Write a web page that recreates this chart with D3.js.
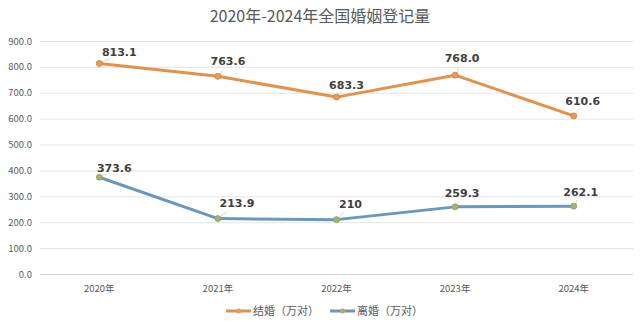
<!DOCTYPE html>
<html><head><meta charset="utf-8">
<script src="https://cdn.jsdelivr.net/npm/d3@7/dist/d3.min.js"></script>
<style>body{margin:0;background:#fff}svg{display:block}</style>
</head><body><svg id="c" width="640" height="325"></svg>
<script>
const categories = ["2020年","2021年","2022年","2023年","2024年"];
const marriage = [813.1, 763.6, 683.3, 768.0, 610.6];
const divorce = [373.6, 213.9, 210, 259.3, 262.1];
const marriageLabels = ["813.1","763.6","683.3","768.0","610.6"];
const divorceLabels = ["373.6","213.9","210","259.3","262.1"];
const yTicks = [0,100,200,300,400,500,600,700,800,900];
const seriesNames = ["结婚（万对）","离婚（万对）"];
const title = "2020年-2024年全国婚姻登记量";

const svg = d3.select("#c");
const font = "'Noto Sans CJK SC','Microsoft YaHei',sans-serif";
const x = d3.scaleBand().domain(categories).range([40,633]);
const y = d3.scaleLinear().domain([0,900]).range([274,41]);

svg.append("text").attr("x",320).attr("y",22).attr("text-anchor","middle")
  .attr("font-family",font).attr("font-size",16).attr("fill","#595959").text(title);

const yAxis = svg.append("g").attr("transform","translate(40,0)")
  .call(d3.axisLeft(y).tickValues(yTicks).tickFormat(d3.format(".1f")).tickSize(-593).tickPadding(8));
yAxis.select(".domain").remove();
yAxis.selectAll(".tick line").attr("stroke","#e3e3e3");
yAxis.selectAll(".tick text").attr("font-family",font).attr("font-size",9.5).attr("fill","#595959");
yAxis.selectAll(".tick").filter(d=>d===0).select("line").attr("stroke","#d0d0d0");

const xAxis = svg.append("g").attr("transform","translate(0,274)")
  .call(d3.axisBottom(x).tickSize(0).tickPadding(11));
xAxis.select(".domain").remove();
xAxis.selectAll(".tick text").attr("font-family",font).attr("font-size",9.5).attr("fill","#595959");

const cx = d => x(d) + x.bandwidth()/2;
const line = d3.line().x(d=>cx(d[0])).y(d=>y(d[1]));

const series = [
  {vals: marriage, labels: marriageLabels, color:"#e0924f", marker:"#e89a5a", mstroke:"#c9803f",
   off:[[20,-7],[10,-11],[10,-8],[7,-13],[9,-11]]},
  {vals: divorce, labels: divorceLabels, color:"#6a98bd", marker:"#a4b26a", mstroke:"#8fa060",
   off:[[15,-5],[19,-12],[14,-12],[7,-10],[7,-10]]}
];

series.forEach(s=>{
  const pts = categories.map((c,i)=>[c,s.vals[i]]);
  svg.append("path").datum(pts).attr("d",line).attr("fill","none")
    .attr("stroke",s.color).attr("stroke-width",3).attr("stroke-linejoin","round");
  pts.forEach((p,i)=>{
    const px = cx(p[0]), py = y(p[1]);
    const [dx,dy] = s.off[i];
    svg.append("line").attr("x1",px+2).attr("y1",py-2).attr("x2",px+dx*0.5).attr("y2",py+dy*0.6)
      .attr("stroke","#c8c8c8").attr("stroke-width",0.7);
    svg.append("circle").attr("cx",px).attr("cy",py).attr("r",3)
      .attr("fill",s.marker).attr("stroke",s.mstroke).attr("stroke-width",0.8);
    svg.append("text").attr("x",px+dx).attr("y",py+dy).attr("text-anchor","middle")
      .attr("font-family","'DejaVu Sans',sans-serif").attr("font-size",11).attr("font-weight","bold")
      .attr("fill","#404040").text(s.labels[i]);
  });
});

const leg = [[226,seriesNames[0],series[0]],[330,seriesNames[1],series[1]]];
leg.forEach(([lx,name,s])=>{
  svg.append("line").attr("x1",lx).attr("x2",lx+25).attr("y1",311).attr("y2",311)
    .attr("stroke",s.color).attr("stroke-width",3);
  svg.append("circle").attr("cx",lx+12.5).attr("cy",311).attr("r",2.5).attr("fill",s.marker);
  svg.append("text").attr("x",lx+27).attr("y",315).attr("font-family",font).attr("font-size",11)
    .attr("fill","#595959").text(name);
});
</script></body></html>
